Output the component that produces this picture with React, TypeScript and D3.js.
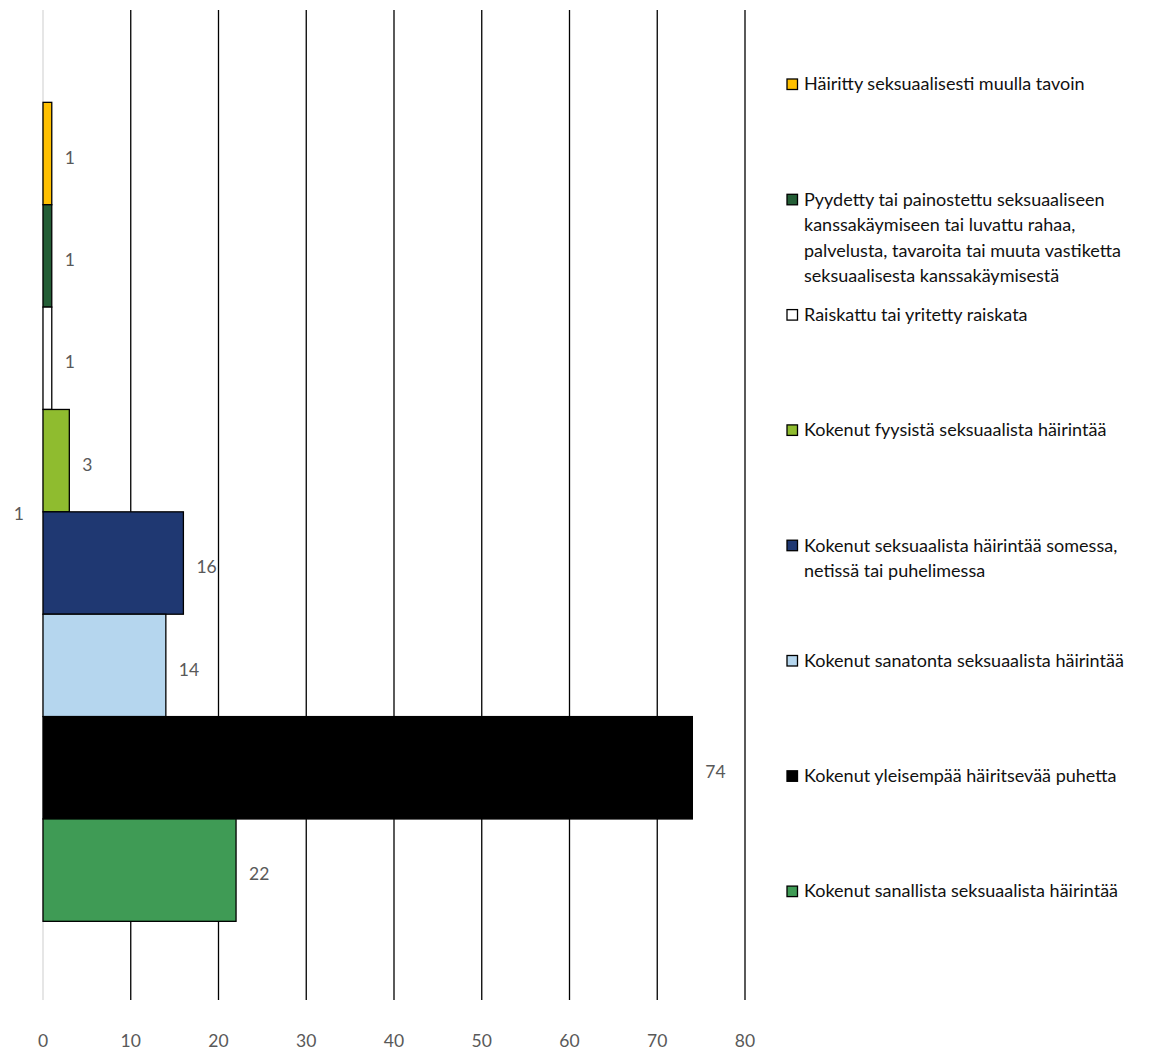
import React from "react";
import * as d3 from "d3";

const categories = ["1"];
const seriesNames = [
  "Häiritty seksuaalisesti muulla tavoin",
  "Pyydetty tai painostettu seksuaaliseen\nkanssakäymiseen tai luvattu rahaa,\npalvelusta, tavaroita tai muuta vastiketta\nseksuaalisesta kanssakäymisestä",
  "Raiskattu tai yritetty raiskata",
  "Kokenut fyysistä seksuaalista häirintää",
  "Kokenut seksuaalista häirintää somessa,\nnetissä tai puhelimessa",
  "Kokenut sanatonta seksuaalista häirintää",
  "Kokenut yleisempää häiritsevää puhetta",
  "Kokenut sanallista seksuaalista häirintää",
];
const seriesValues = [1, 1, 1, 3, 16, 14, 74, 22];
const seriesColors = ["#FFC000", "#245E36", "#FFFFFF", "#8FBC2F", "#1F3872", "#B5D6EE", "#000000", "#3F9B55"];
const xTicks = [0, 10, 20, 30, 40, 50, 60, 70, 80];

const W = 1165;
const H = 1052;
const FONT = "Lato, 'Open Sans', sans-serif";

export default function App() {
  const x = d3.scaleLinear().domain([0, 80]).range([43, 745]);
  const yCat = d3
    .scaleBand<string>()
    .domain(categories)
    .range([10, 1000])
    .paddingInner(0)
    .paddingOuter(0.1044)
    .align(0.54);
  const ySer = d3
    .scaleBand<number>()
    .domain(d3.range(seriesNames.length))
    .range([0, yCat.bandwidth()])
    .padding(0);
  const cat = categories[0];
  const y0 = yCat(cat) ?? 0;

  return (
    <svg width={W} height={H} style={{ position: "absolute", left: 0, top: 0, background: "#fff" }}>
      {xTicks.map((t) => (
        <line
          key={t}
          x1={x(t)}
          x2={x(t)}
          y1={10}
          y2={1000}
          stroke={t === 0 ? "#D9D9D9" : "#000"}
          strokeWidth={1.3}
        />
      ))}
      {seriesValues.map((v, i) => (
        <rect
          key={i}
          x={x(0)}
          y={y0 + (ySer(i) ?? 0)}
          width={x(v) - x(0)}
          height={ySer.bandwidth()}
          fill={seriesColors[i]}
          stroke="#000"
          strokeWidth={1.3}
        />
      ))}
      {seriesValues.map((v, i) => (
        <text
          key={i}
          x={x(v) + 13}
          y={y0 + (ySer(i) ?? 0) + ySer.bandwidth() / 2 + 4}
          dy="0.35em"
          fontFamily={FONT}
          fontSize={17.5}
          fill="#595959"
        >
          {v}
        </text>
      ))}
      <text x={24} y={y0 + yCat.bandwidth() / 2 + 2} dy="0.35em" textAnchor="end" fontFamily={FONT} fontSize={17.5} fill="#595959">
        {cat}
      </text>
      {xTicks.map((t) => (
        <text key={t} x={x(t)} y={1041} dy="0.35em" textAnchor="middle" fontFamily={FONT} fontSize={17.5} fill="#595959">
          {t}
        </text>
      ))}
      {seriesNames.map((name, i) => {
        const ly = 84 + i * 115.3;
        const lines = name.split("\n");
        return (
          <g key={i}>
            <rect x={787} y={ly - 5} width={10.5} height={10.5} fill={seriesColors[i]} stroke="#000" strokeWidth={1.3} />
            {lines.map((ln, j) => (
              <text key={j} x={804} y={ly + j * 25.6} dy="0.35em" fontFamily={FONT} fontSize={18} fill="#111">
                {ln}
              </text>
            ))}
          </g>
        );
      })}
    </svg>
  );
}
